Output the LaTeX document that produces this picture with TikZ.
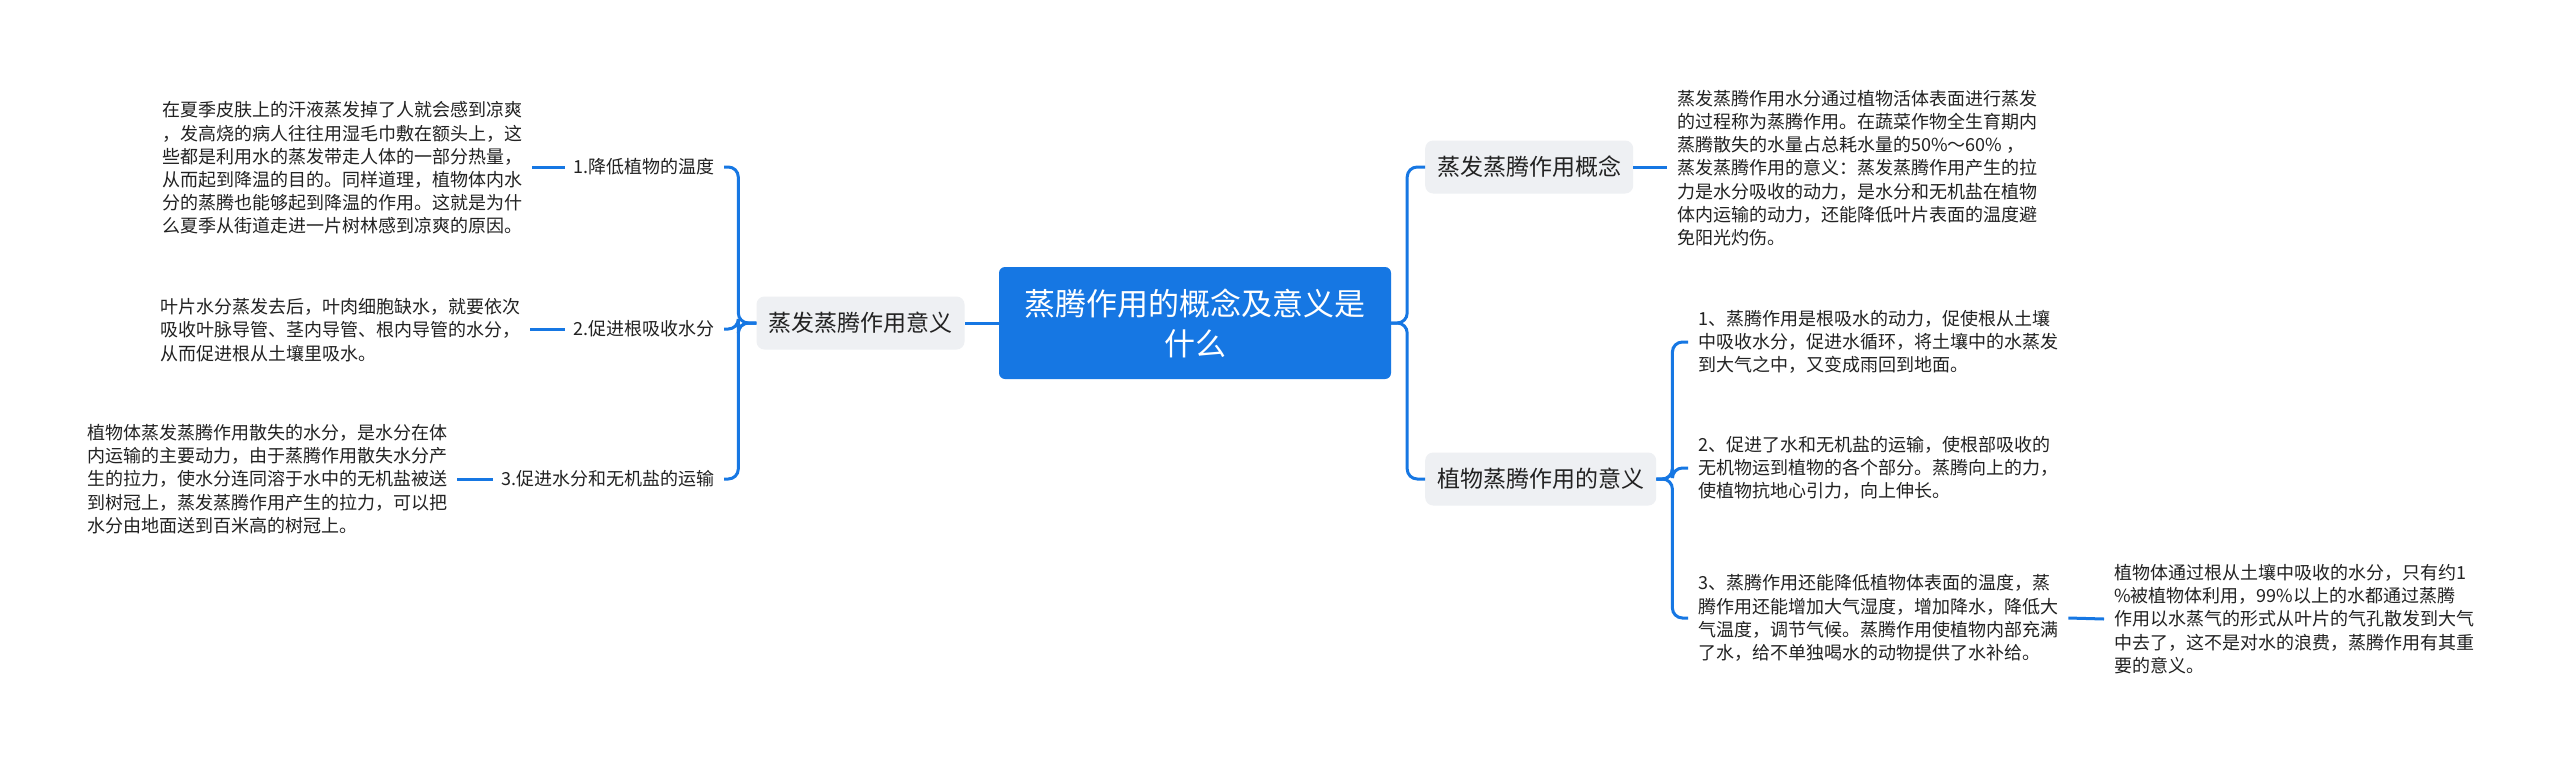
\documentclass[tikz,border=0pt]{standalone}
\usepackage{fontspec}
\setmainfont{Noto Sans CJK SC}
\begin{document}
\begin{tikzpicture}[x=1pt,y=-1pt,
  conn/.style={draw=mainblue,line width=3pt,rounded corners=10pt},
  rootbox/.style={fill=mainblue,text=white,rounded corners=6pt,minimum width=392pt,minimum height=112pt,align=center,font=\fontsize{31}{40}\selectfont,inner sep=0pt},
  topic/.style={fill=boxgray,text=textdark,rounded corners=8pt,minimum height=53pt,inner xsep=12pt,inner ysep=0pt,font=\fontsize{23}{28}\selectfont},
  label/.style={text=textdark,inner xsep=9pt,inner ysep=0pt,font=\fontsize{18}{22}\selectfont},
  leaf/.style={text=textdark,align=left,inner xsep=10pt,inner ysep=0pt,font=\fontsize{18}{23.2}\selectfont}]
\definecolor{mainblue}{HTML}{1677E3}
\definecolor{boxgray}{HTML}{EEF0F3}
\definecolor{textdark}{HTML}{222222}
\useasboundingbox (0,0) rectangle (2560,761);
\fill[white] (0,0) rectangle (2560,761);

% root
\node[rootbox] (root) at (1195,323) {蒸腾作用的概念及意义是\\什么};

% left topic
\node[topic] (sig1) at (860.5,323) {蒸发蒸腾作用意义};

% left labels
\node[label,anchor=east] (l1) at (724,167) {1.降低植物的温度};
\node[label,anchor=east] (l2) at (724,329) {2.促进根吸收水分};
\node[label,anchor=east] (l3) at (724,479) {3.促进水分和无机盐的运输};

% left leaf texts
\node[leaf,anchor=west] (t1) at (152,168) {在夏季皮肤上的汗液蒸发掉了人就会感到凉爽\\，发高烧的病人往往用湿毛巾敷在额头上，这\\些都是利用水的蒸发带走人体的一部分热量，\\从而起到降温的目的。同样道理，植物体内水\\分的蒸腾也能够起到降温的作用。这就是为什\\么夏季从街道走进一片树林感到凉爽的原因。};
\node[leaf,anchor=west] (t2) at (150,330) {叶片水分蒸发去后，叶肉细胞缺水，就要依次\\吸收叶脉导管、茎内导管、根内导管的水分，\\从而促进根从土壤里吸水。};
\node[leaf,anchor=west] (t3) at (77,479) {植物体蒸发蒸腾作用散失的水分，是水分在体\\内运输的主要动力，由于蒸腾作用散失水分产\\生的拉力，使水分连同溶于水中的无机盐被送\\到树冠上，蒸发蒸腾作用产生的拉力，可以把\\水分由地面送到百米高的树冠上。};

% right topics
\node[topic,anchor=west] (con) at (1425,167) {蒸发蒸腾作用概念};
\node[topic,anchor=west] (mean) at (1425,479) {植物蒸腾作用的意义};

% right texts
\node[leaf,anchor=west] (ct) at (1667,168) {蒸发蒸腾作用水分通过植物活体表面进行蒸发\\的过程称为蒸腾作用。在蔬菜作物全生育期内\\蒸腾散失的水量占总耗水量的50\%～60\% ，\\蒸发蒸腾作用的意义：蒸发蒸腾作用产生的拉\\力是水分吸收的动力，是水分和无机盐在植物\\体内运输的动力，还能降低叶片表面的温度避\\免阳光灼伤。};
\node[leaf,anchor=west] (m1) at (1688,342) {1、蒸腾作用是根吸水的动力，促使根从土壤\\中吸收水分，促进水循环，将土壤中的水蒸发\\到大气之中，又变成雨回到地面。};
\node[leaf,anchor=west] (m2) at (1688,468) {2、促进了水和无机盐的运输，使根部吸收的\\无机物运到植物的各个部分。蒸腾向上的力，\\使植物抗地心引力，向上伸长。};
\node[leaf,anchor=west] (m3) at (1688,618) {3、蒸腾作用还能降低植物体表面的温度，蒸\\腾作用还能增加大气湿度，增加降水，降低大\\气温度，调节气候。蒸腾作用使植物内部充满\\了水，给不单独喝水的动物提供了水补给。};
\node[leaf,anchor=west] (m3a) at (2104,619) {植物体通过根从土壤中吸收的水分，只有约1\\\%被植物体利用，99\%以上的水都通过蒸腾\\作用以水蒸气的形式从叶片的气孔散发到大气\\中去了，这不是对水的浪费，蒸腾作用有其重\\要的意义。};

% connectors
\draw[conn] (root.west) -- (sig1.east);
\draw[conn] (sig1.west) -- ++(-18,0) |- (l1.east);
\draw[conn] (sig1.west) -- ++(-18,0) |- (l2.east);
\draw[conn] (sig1.west) -- ++(-18,0) |- (l3.east);
\draw[conn] (l1.west) -- (t1.east |- l1.west);
\draw[conn] (l2.west) -- (t2.east |- l2.west);
\draw[conn] (l3.west) -- (t3.east |- l3.west);

\draw[conn] (root.east) -- ++(16,0) |- (con.west);
\draw[conn] (root.east) -- ++(16,0) |- (mean.west);
\draw[conn] (con.east) -- (ct.west |- con.east);
\draw[conn] (mean.east) -- ++(16,0) |- (m1.west);
\draw[conn] (mean.east) -- ++(16,0) |- (m2.west);
\draw[conn] (mean.east) -- ++(16,0) |- (m3.west);
\draw[conn] (m3.east) -- (m3a.west);
\end{tikzpicture}
\end{document}
